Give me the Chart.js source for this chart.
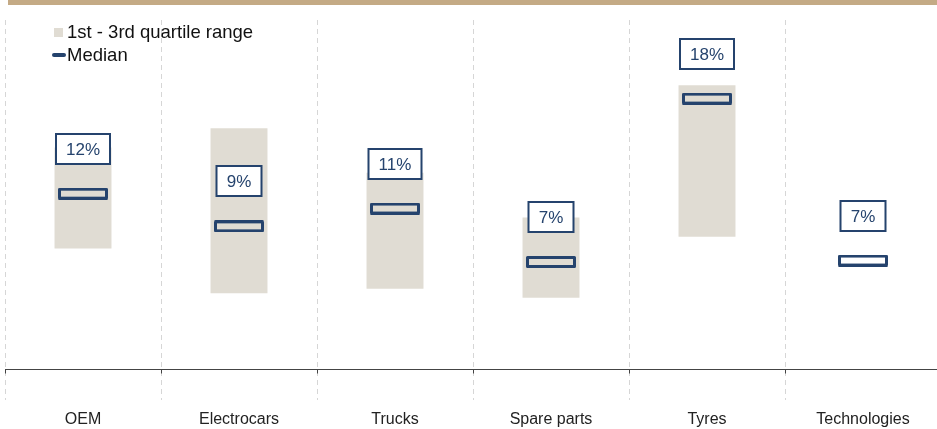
<!DOCTYPE html>
<html>
<head>
<meta charset="utf-8">
<script src="https://cdn.jsdelivr.net/npm/chart.js@4/dist/chart.umd.min.js"></script>
<style>
  html, body { margin: 0; padding: 0; background: #fff; overflow: hidden; }
  #wrap { position: relative; width: 946px; height: 429px; }
</style>
</head>
<body>
<div id="wrap"><canvas id="chart"></canvas></div>
<script>
// categories and values (percent)
const categories = ["OEM", "Electrocars", "Trucks", "Spare parts", "Tyres", "Technologies"];
const q1 = [8.1, 5.1, 5.4, 4.8, 8.9, null];
const q3 = [14.9, 16.2, 13.2, 10.2, 19.1, null];
const medians = [11.8, 9.6, 10.8, 7.2, 18.2, 7.3];
const medianLabels = ["12%", "9%", "11%", "7%", "18%", "7%"];

const NAVY = "#25436d";
const BEIGE = "#e0dcd3";
const FONT = "'Liberation Sans', Arial, sans-serif";

// outlined median marker used as point style
function medianMarker() {
  const c = document.createElement("canvas");
  c.width = 50; c.height = 12;
  const g = c.getContext("2d");
  g.strokeStyle = NAVY;
  g.lineWidth = 3;
  g.lineJoin = "round";
  g.strokeRect(1.5, 1.5, 47, 9);
  return c;
}

const decorations = {
  id: "decorations",
  beforeDraw(chart) {
    const ctx = chart.ctx;
    ctx.save();
    ctx.fillStyle = "#c4aa85";
    ctx.fillRect(8, 0, chart.width, 5);
    ctx.restore();
  },
  afterDraw(chart) {
    const ctx = chart.ctx;
    const x = chart.scales.x, y = chart.scales.y;
    const area = chart.chartArea;
    const y0 = Math.round(y.getPixelForValue(0)) + 0.5;

    // axis line with small ticks at category boundaries
    ctx.save();
    ctx.strokeStyle = "#444";
    ctx.lineWidth = 1;
    ctx.beginPath();
    ctx.moveTo(area.left, y0);
    ctx.lineTo(area.right, y0);
    for (let i = 0; i <= categories.length; i++) {
      const bx = Math.round(x.getPixelForValue(i - 0.5)) + 0.5;
      ctx.moveTo(bx, y0);
      ctx.lineTo(bx, y0 + 4);
    }
    ctx.stroke();

    // median value boxes
    const meta = chart.getDatasetMeta(1);
    ctx.font = "17px " + FONT;
    ctx.textAlign = "center";
    ctx.textBaseline = "middle";
    meta.data.forEach((pt, i) => {
      const txt = medianLabels[i];
      const w = Math.round(ctx.measureText(txt).width) + 20;
      const h = 30;
      const cx = Math.round(pt.x), cy = Math.round(pt.y - 45);
      ctx.fillStyle = "#fff";
      ctx.fillRect(cx - w / 2, cy - h / 2, w, h);
      ctx.strokeStyle = NAVY;
      ctx.lineWidth = 2;
      ctx.strokeRect(cx - w / 2, cy - h / 2, w, h);
      ctx.fillStyle = NAVY;
      ctx.fillText(txt, cx, cy + 1);
    });

    // legend
    ctx.textAlign = "left";
    ctx.font = "18.5px " + FONT;
    ctx.fillStyle = BEIGE;
    ctx.fillRect(54, 28, 9, 9);
    ctx.fillStyle = "#111";
    ctx.fillText("1st - 3rd quartile range", 67, 33);
    ctx.strokeStyle = NAVY;
    ctx.lineWidth = 4;
    ctx.lineCap = "round";
    ctx.beginPath();
    ctx.moveTo(54, 55);
    ctx.lineTo(64, 55);
    ctx.stroke();
    ctx.fillText("Median", 67, 56);
    ctx.restore();
  }
};

new Chart(document.getElementById("chart"), {
  type: "bar",
  data: {
    labels: categories,
    datasets: [
      {
        label: "1st - 3rd quartile range",
        data: q1.map((v, i) => v == null ? null : [v, q3[i]]),
        backgroundColor: BEIGE,
        borderWidth: 0,
        categoryPercentage: 1,
        barPercentage: 0.365,
        order: 2
      },
      {
        type: "line",
        label: "Median",
        data: medians,
        showLine: false,
        pointStyle: medianMarker(),
        order: 1
      }
    ]
  },
  options: {
    responsive: true,
    maintainAspectRatio: false,
    animation: false,
    events: [],
    layout: { padding: { left: 5, right: 1, top: 20, bottom: 0 } },
    plugins: { legend: { display: false }, tooltip: { enabled: false } },
    scales: {
      x: {
        offset: true,
        border: { display: false, dash: [5, 4] },
        grid: {
          offset: true,
          color: "#d6d6d6",
          lineWidth: 1,
          drawTicks: false
        },
        ticks: {
          color: "#222",
          font: { family: FONT, size: 16 },
          padding: 10
        },
        afterFit(scale) { scale.height = 29; }
      },
      y: {
        display: false,
        min: -2.09,
        max: 23.49
      }
    }
  },
  plugins: [decorations]
});
</script>
</body>
</html>
